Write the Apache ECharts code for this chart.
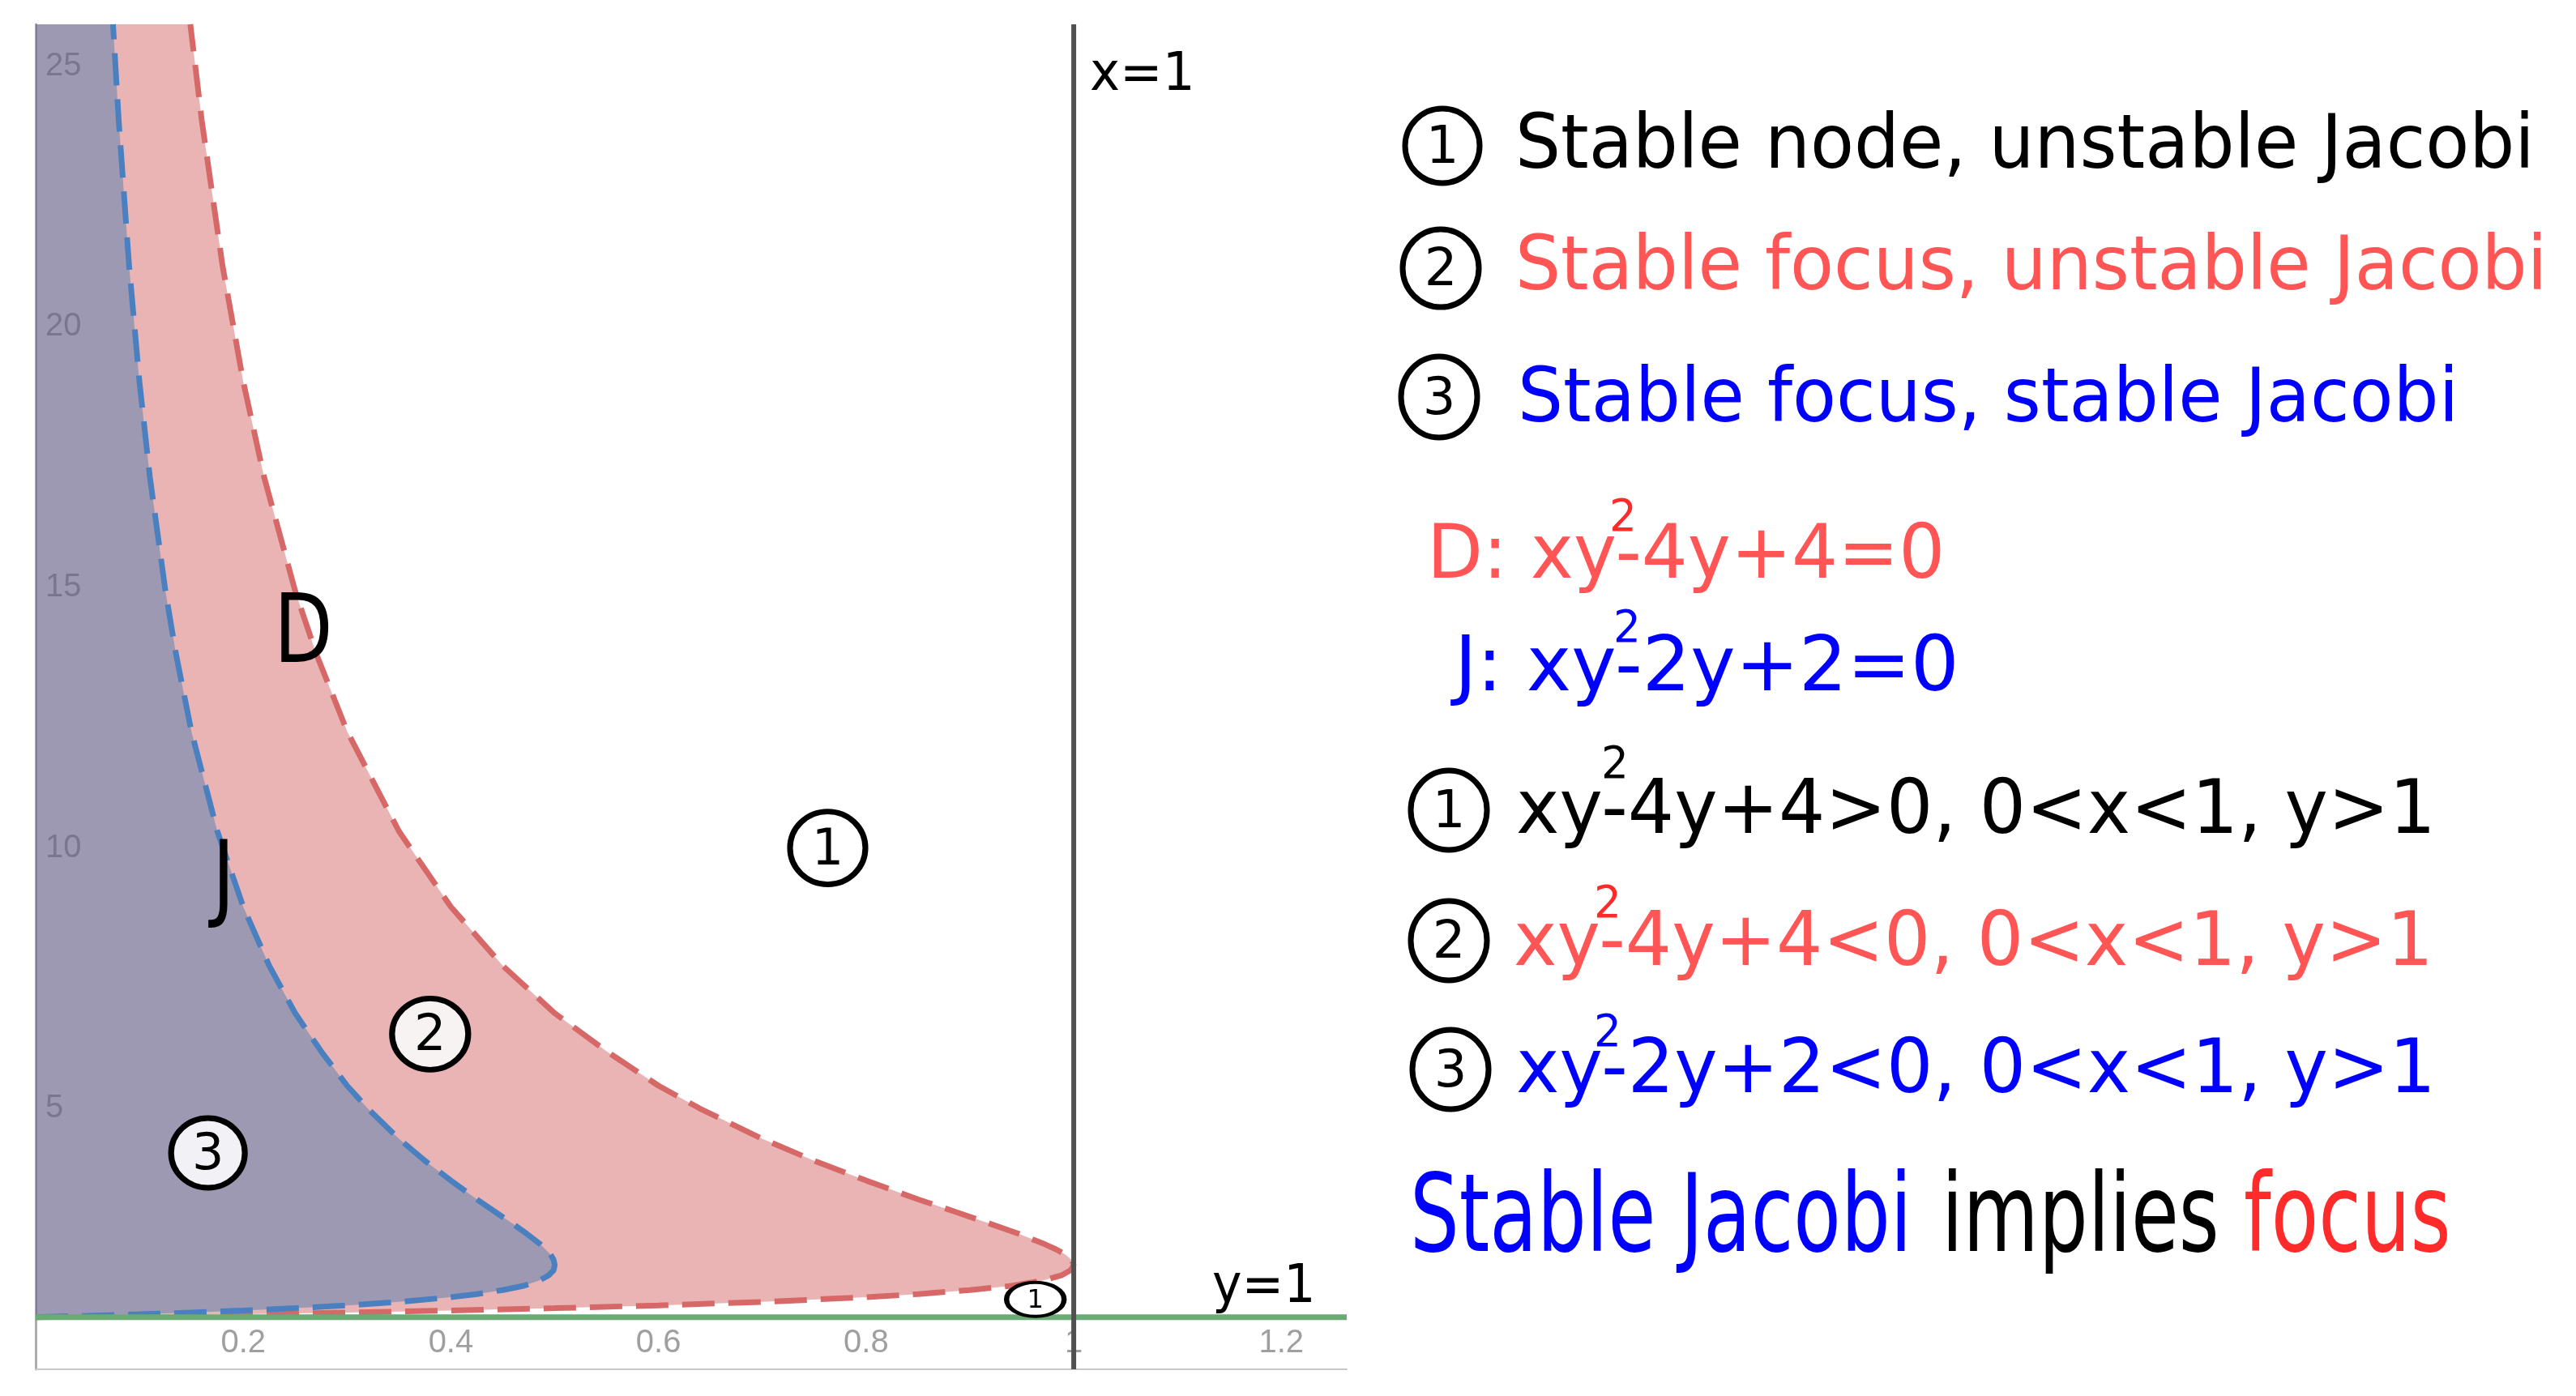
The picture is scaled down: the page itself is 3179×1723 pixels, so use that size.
<!DOCTYPE html>
<html>
<head>
<meta charset="utf-8">
<script src="https://cdn.jsdelivr.net/npm/echarts@6/dist/echarts.min.js"></script>
<style>
html,body{margin:0;padding:0;background:#fff;}
#c{width:3179px;height:1723px;}
</style>
</head>
<body>
<div id="c"></div>
<script>
// ---- data ----
// Curve D: xy^2 - 4y + 4 = 0 (x, y points along the dashed red boundary)
const dX = [0, 0.05, 0.1, 0.2, 0.3, 0.4, 0.5, 0.6, 0.7, 0.8, 0.85, 0.9, 0.94, 0.97, 0.988, 0.997, 1, 0.998, 0.992, 0.983, 0.972, 0.947, 0.918, 0.889, 0.85, 0.8, 0.75, 0.7, 0.64, 0.6, 0.55, 0.5, 0.45, 0.4, 0.35, 0.3, 0.27, 0.25, 0.22, 0.2, 0.18, 0.16, 0.149];
const dY = [1, 1.013, 1.026, 1.056, 1.089, 1.127, 1.172, 1.225, 1.292, 1.382, 1.442, 1.52, 1.6, 1.7, 1.8, 1.9, 2, 2.1, 2.2, 2.3, 2.4, 2.6, 2.8, 3, 3.26, 3.62, 4, 4.42, 5, 5.44, 6.1, 6.83, 7.74, 8.87, 10.32, 12.24, 13.74, 14.93, 17.12, 18.94, 21.17, 23.96, 25.8];
// Curve J: xy^2 - 2y + 2 = 0 (x, y points along the dashed blue boundary)
const jX = [0, 0.025, 0.05, 0.1, 0.15, 0.2, 0.25, 0.3, 0.35, 0.4, 0.425, 0.45, 0.47, 0.485, 0.494, 0.499, 0.5, 0.499, 0.496, 0.491, 0.486, 0.473, 0.459, 0.444, 0.425, 0.4, 0.375, 0.35, 0.32, 0.3, 0.275, 0.25, 0.225, 0.2, 0.175, 0.15, 0.135, 0.125, 0.11, 0.1, 0.09, 0.08, 0.0745];
const jY = [1, 1.013, 1.026, 1.056, 1.089, 1.127, 1.172, 1.225, 1.292, 1.382, 1.442, 1.52, 1.6, 1.7, 1.8, 1.9, 2, 2.1, 2.2, 2.3, 2.4, 2.6, 2.8, 3, 3.26, 3.62, 4, 4.42, 5, 5.44, 6.1, 6.83, 7.74, 8.87, 10.32, 12.24, 13.74, 14.93, 17.12, 18.94, 21.17, 23.96, 25.8];
// Reference lines
const vLineX = [1, 1];
const vLineY = [0, 25.8];
const hLineX = [0, 1.263];
const hLineY = [1, 1];
// Axis ranges / ticks
const xRange = [0, 1.263];
const yRange = [0, 25.8];
const xTickStep = 0.2;
const yTickStep = 5;
// Region markers (circled numbers in the plot)
const regionNames = ['1', '2', '3', '1'];
const regionX = [0.763, 0.38, 0.166, 0.963];
const regionY = [10.0, 6.43, 4.15, 1.34];
// Text
const legendTitles = ['Stable node, unstable Jacobi', 'Stable focus, unstable Jacobi', 'Stable focus, stable Jacobi'];
const eqD = 'D: xy-4y+4=0';
const eqJ = 'J: xy-2y+2=0';
const conditions = ['xy-4y+4>0, 0<x<1, y>1', 'xy-4y+4<0, 0<x<1, y>1', 'xy-2y+2<0, 0<x<1, y>1'];
const conclusion = ['Stable Jacobi', 'implies', 'focus'];

// ---- styles ----
const RED_T = '#ff5555', RED_S = '#ff2a2a', BLUE_T = '#0000ff', BLACK = '#000000';
const FONT = '"DejaVu Sans", "Noto Sans", sans-serif';
const regionStyle = [
  {size: [93, 90], fill: '#ffffff', fs: 62, bw: 7, off: 4},
  {size: [94, 88], fill: '#f8f3f3', fs: 62, bw: 7, off: 4},
  {size: [91, 86], fill: '#f2f1f6', fs: 62, bw: 7, off: 4},
  {size: [71, 42], fill: '#ffffff', fs: 32, bw: 5, off: 2}
];

function pairs(xs, ys) { return xs.map((x, i) => [x, ys[i]]); }
function makeFill(xs, ys, color) {
  return function (params, api) {
    const pts = [api.coord([0, ys[0]])];
    for (let i = 0; i < xs.length; i++) pts.push(api.coord([xs[i], ys[i]]));
    pts.push(api.coord([0, ys[ys.length - 1]]));
    return {type: 'polygon', shape: {points: pts}, style: {fill: color}, silent: true};
  };
}
function txt(x, y, text, size, color, sx) {
  return {
    type: 'text', x: x, y: y + 4, scaleX: sx || 1, z: 100, silent: true,
    style: {text: text, font: size + 'px ' + FONT, fill: color,
      textAlign: 'left', align: 'left', textVerticalAlign: 'middle', verticalAlign: 'middle'}
  };
}
function ctxt(x, y, text, size, color) {
  return {
    type: 'text', x: x, y: y, z: 100, silent: true,
    style: {text: text, font: size + 'px ' + FONT, fill: color,
      textAlign: 'center', align: 'center', textVerticalAlign: 'middle', verticalAlign: 'middle'}
  };
}
function ell(cx, cy, rx, ry) {
  return {type: 'ellipse', shape: {cx: cx, cy: cy, rx: rx, ry: ry}, z: 99, silent: true,
    style: {fill: 'rgba(255,255,255,0)', stroke: '#000', lineWidth: 7}};
}

const legendCircles = [[1780, 180, 46, 46], [1778, 331, 47, 48], [1776, 490, 47, 50],
                       [1788, 1000, 47, 49], [1788, 1161, 47, 49], [1790, 1320, 47, 49]];
const legendDigits = ['1', '2', '3', '1', '2', '3'];

const graphics = [];
legendCircles.forEach((c, i) => {
  graphics.push(ell(c[0], c[1], c[2], c[3]));
  graphics.push(ctxt(c[0], c[1] + 4, legendDigits[i], 64, BLACK));
});
graphics.push(txt(1870, 179, legendTitles[0], 93, BLACK, 0.95));
graphics.push(txt(1870, 329, legendTitles[1], 93, RED_T, 0.95));
graphics.push(txt(1873, 492, legendTitles[2], 93, BLUE_T, 0.95));
graphics.push(txt(1761, 685, eqD, 92, RED_T, 0.975));
graphics.push(txt(1795, 823, eqJ, 95, BLUE_T, 0.985));
graphics.push(txt(1871, 1000, conditions[0], 93, BLACK, 0.97));
graphics.push(txt(1868, 1163, conditions[1], 93, RED_T, 0.97));
graphics.push(txt(1871, 1320, conditions[2], 93, BLUE_T, 0.97));
graphics.push(txt(1986, 636, '2', 56, RED_S, 0.95));
graphics.push(txt(1991, 773, '2', 56, BLUE_T, 0.95));
graphics.push(txt(1976, 941, '2', 56, BLACK, 0.95));
graphics.push(txt(1967, 1113, '2', 56, RED_S, 0.95));
graphics.push(txt(1967, 1272, '2', 56, BLUE_T, 0.95));
graphics.push(txt(1740, 1505, conclusion[0], 133, BLUE_T, 0.72));
graphics.push(txt(2396, 1505, conclusion[1], 133, BLACK, 0.72));
graphics.push(txt(2769, 1505, conclusion[2], 133, RED_S, 0.72));
// in-plot labels
graphics.push(txt(338, 782, 'D', 118, BLACK, 0.8));
graphics.push(txt(262, 1086, 'J', 118, BLACK, 0.8));
graphics.push(txt(1345, 90, 'x=1', 66, BLACK, 0.95));
graphics.push(txt(1496, 1586, 'y=1', 65, BLACK, 0.95));

const axisLabelCommon = {
  inside: true, margin: 12, color: 'rgba(80,80,80,0.55)',
  fontFamily: '"Liberation Sans", Arial, sans-serif', fontSize: 40
};

const chart = echarts.init(document.getElementById('c'), null, {renderer: 'canvas'});
chart.setOption({
  animation: false,
  backgroundColor: '#ffffff',
  grid: {left: 44, right: 1517, top: 30, bottom: 33, containLabel: false, outerBoundsMode: 'none'},
  xAxis: {
    type: 'value', min: xRange[0], max: xRange[1], interval: xTickStep,
    axisLine: {show: true, onZero: false, lineStyle: {color: '#c8c8c8', width: 2}},
    axisTick: {show: false}, splitLine: {show: false},
    axisLabel: Object.assign({}, axisLabelCommon, {
      formatter: function (v) {
        const k = v / xTickStep;
        if (v <= 0 || Math.abs(k - Math.round(k)) > 1e-6) return '';
        return String(+v.toFixed(1));
      }
    })
  },
  yAxis: {
    type: 'value', min: yRange[0], max: yRange[1], interval: yTickStep,
    axisLine: {show: true, onZero: false, lineStyle: {color: 'rgba(50,50,50,0.4)', width: 3}},
    axisTick: {show: false}, splitLine: {show: false},
    axisLabel: Object.assign({}, axisLabelCommon, {
      formatter: function (v) {
        const k = v / yTickStep;
        if (v <= 0 || Math.abs(k - Math.round(k)) > 1e-6) return '';
        return String(Math.round(v));
      }
    })
  },
  series: [
    {type: 'custom', renderItem: makeFill(dX, dY, 'rgba(199,68,64,0.4)'), data: [[0, 1]], z: 1, silent: true},
    {type: 'custom', renderItem: makeFill(jX, jY, 'rgba(45,112,179,0.4)'), data: [[0, 1]], z: 1, silent: true},
    {type: 'line', data: pairs(dX, dY), symbol: 'none', smooth: false, silent: true, z: 3,
     lineStyle: {color: '#d66868', width: 7, type: [40, 17]}},
    {type: 'line', data: pairs(jX, jY), symbol: 'none', smooth: false, silent: true, z: 3,
     lineStyle: {color: '#4a80c0', width: 7, type: [40, 17]}},
    {type: 'line', data: pairs(hLineX, hLineY), symbol: 'none', silent: true, z: 4,
     lineStyle: {color: '#6aaa74', width: 7}},
    {type: 'line', data: pairs(vLineX, vLineY), symbol: 'none', silent: true, z: 5,
     lineStyle: {color: '#505050', width: 6}},
    {type: 'scatter', silent: true, z: 6,
     data: regionNames.map((n, i) => ({
       name: n, value: [regionX[i], regionY[i]], symbolSize: regionStyle[i].size,
       itemStyle: {color: regionStyle[i].fill, borderColor: '#000', borderWidth: regionStyle[i].bw, opacity: 1},
       label: {fontSize: regionStyle[i].fs, offset: [0, regionStyle[i].off]}
     })),
     symbol: 'circle',
     itemStyle: {opacity: 1},
     label: {show: true, position: 'inside', formatter: '{b}', color: '#000', fontFamily: FONT}
    }
  ],
  graphic: graphics
});
</script>
</body>
</html>
